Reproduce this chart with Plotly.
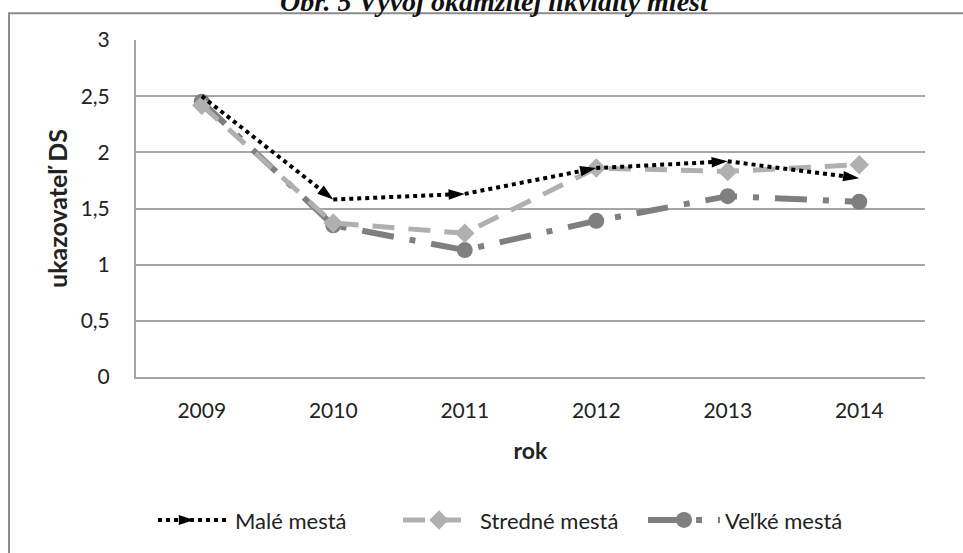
import plotly.graph_objects as go

years = ["2009", "2010", "2011", "2012", "2013", "2014"]
male = [2.50, 1.58, 1.63, 1.86, 1.92, 1.77]
stredne = [2.42, 1.37, 1.28, 1.86, 1.83, 1.89]
velke = [2.45, 1.35, 1.13, 1.39, 1.61, 1.56]
y_ticks = [0, 0.5, 1, 1.5, 2, 2.5, 3]

W, H = 963, 553
L, R, T, B = 136, 38, 40, 174
pw, ph = W - L - R, H - T - B

def px_x(p):
    return (p - L) / pw

def px_y(p):
    return (H - B - p) / ph

FONT = "Lato"

fig = go.Figure()
fig.add_trace(go.Scatter(
    x=years, y=velke, name="Veľké mestá", mode="lines+markers",
    line=dict(color="#7f7f7f", width=6, dash="32px,16px,6px,16px"),
    marker=dict(symbol="circle", size=16, color="#7f7f7f"),
))
fig.add_trace(go.Scatter(
    x=years, y=stredne, name="Stredné mestá", mode="lines+markers",
    line=dict(color="#b0b0b0", width=5, dash="22px,14px"),
    marker=dict(symbol="diamond", size=15, color="#b0b0b0"),
))
fig.add_trace(go.Scatter(
    x=years, y=male, name="Malé mestá", mode="lines+markers",
    line=dict(color="#000000", width=4, dash="dot"),
    marker=dict(symbol="arrow", size=17, color="#000000", angleref="previous"),
))

fig.update_layout(
    width=W, height=H,
    margin=dict(l=L, r=R, t=T, b=B),
    paper_bgcolor="white", plot_bgcolor="white",
    separators=", ",
    font=dict(family=FONT, size=21, color="#222222"),
    showlegend=True,
    legend=dict(
        orientation="h", x=px_x(153), xanchor="left", y=px_y(523), yanchor="middle",
        font=dict(size=22, color="#222222"), traceorder="reversed",
        itemwidth=72, entrywidth=158, entrywidthmode="pixels",
    ),
    xaxis=dict(
        type="category", range=[-0.5, 5.5], showgrid=False,
        showline=True, linecolor="#a6a6a6", linewidth=2, ticks="",
        title=dict(text="<b>rok</b>", font=dict(size=23), standoff=22),
        ticklabelstandoff=14, automargin=False,
    ),
    yaxis=dict(
        range=[0, 3], tickvals=y_ticks, showgrid=True, gridcolor="#a6a6a6", gridwidth=1.5,
        showline=True, linecolor="#a6a6a6", linewidth=2, ticks="",
        zeroline=False,
        title=dict(text="<b>ukazovateľ DS</b>", font=dict(size=25), standoff=6),
        ticklabelstandoff=20, automargin=False,
    ),
    shapes=[dict(
        type="rect", xref="paper", yref="paper",
        x0=px_x(9), x1=px_x(975), y0=px_y(580), y1=px_y(13),
        line=dict(color="#8c8c8c", width=2), fillcolor="rgba(0,0,0,0)", layer="below",
    )],
    annotations=[dict(
        text="<b><i>Obr. 5 Vývoj okamžitej likvidity miest</i></b>",
        xref="paper", yref="paper", x=px_x(494), y=px_y(19), xanchor="center", yanchor="bottom",
        showarrow=False, font=dict(family="Liberation Serif", size=28, color="#111111"),
    )],
)

fig.write_html("out.html")
